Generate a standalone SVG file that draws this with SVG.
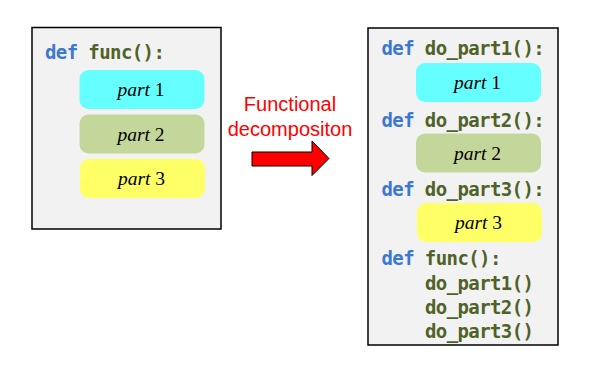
<svg xmlns="http://www.w3.org/2000/svg" width="606" height="376" viewBox="0 0 606 376">
  <style>
    .panel { fill: #f2f2f2; stroke: #000; stroke-width: 1.5; }
    .code { font-family: "DejaVu Sans Mono", "Liberation Mono", monospace; font-weight: bold; font-size: 19px; letter-spacing: -0.6px; fill: #4f6228; }
    .kw { fill: #3c78d2; }
    .blk { stroke: none; }
    .p1 { fill: #66ffff; }
    .p2 { fill: #c4d79b; }
    .p3 { fill: #ffff66; }
    .part { font-family: "Liberation Serif", "Times New Roman", serif; font-size: 19.5px; fill: #000; text-anchor: middle; }
    .part .it { font-style: italic; }
    .label { font-family: "Liberation Sans", Arial, sans-serif; font-size: 20px; fill: #ff0000; text-anchor: middle; }
  </style>

  <!-- original monolithic function -->
  <g id="func-original">
    <rect class="panel" x="32" y="27.5" width="189" height="201.5"/>
    <text class="code" x="45" y="58.5"><tspan class="kw">def</tspan> func():</text>
    <g id="orig-part1">
      <rect class="blk p1" x="79.5" y="70" width="125" height="39" rx="9"/>
      <text class="part" x="141" y="96"><tspan class="it">part</tspan> 1</text>
    </g>
    <g id="orig-part2">
      <rect class="blk p2" x="79.5" y="114.5" width="125" height="39" rx="9"/>
      <text class="part" x="141" y="140.5"><tspan class="it">part</tspan> 2</text>
    </g>
    <g id="orig-part3">
      <rect class="blk p3" x="80" y="159" width="125" height="39" rx="9"/>
      <text class="part" x="141.5" y="185"><tspan class="it">part</tspan> 3</text>
    </g>
  </g>

  <!-- transformation arrow -->
  <g id="connectors">
    <polygon points="252,152 312,152 312,141 329,158.5 312,175.5 312,166 252,166" fill="#ff0000" stroke="#000" stroke-width="1"/>
    <text class="label" x="290" y="111">Functional</text>
    <text class="label" x="290" y="136">decompositon</text>
  </g>

  <!-- decomposed version -->
  <g id="func-decomposed">
    <rect class="panel" x="368" y="28" width="190" height="317"/>
    <g id="do-part1">
      <text class="code" x="381.5" y="55"><tspan class="kw">def</tspan> do_part1():</text>
      <rect class="blk p1" x="416" y="63" width="125" height="39" rx="9"/>
      <text class="part" x="477.5" y="89"><tspan class="it">part</tspan> 1</text>
    </g>
    <g id="do-part2">
      <text class="code" x="381.5" y="126.5"><tspan class="kw">def</tspan> do_part2():</text>
      <rect class="blk p2" x="416" y="133.5" width="125" height="39" rx="9"/>
      <text class="part" x="477.5" y="159.5"><tspan class="it">part</tspan> 2</text>
    </g>
    <g id="do-part3">
      <text class="code" x="381.5" y="195.5"><tspan class="kw">def</tspan> do_part3():</text>
      <rect class="blk p3" x="417" y="203" width="125" height="39" rx="9"/>
      <text class="part" x="478.5" y="229"><tspan class="it">part</tspan> 3</text>
    </g>
    <g id="func-new">
      <text class="code" x="381.5" y="265"><tspan class="kw">def</tspan> func():</text>
      <text class="code" x="425" y="289.5">do_part1()</text>
      <text class="code" x="425" y="313.5">do_part2()</text>
      <text class="code" x="425" y="337.5">do_part3()</text>
    </g>
  </g>
</svg>
